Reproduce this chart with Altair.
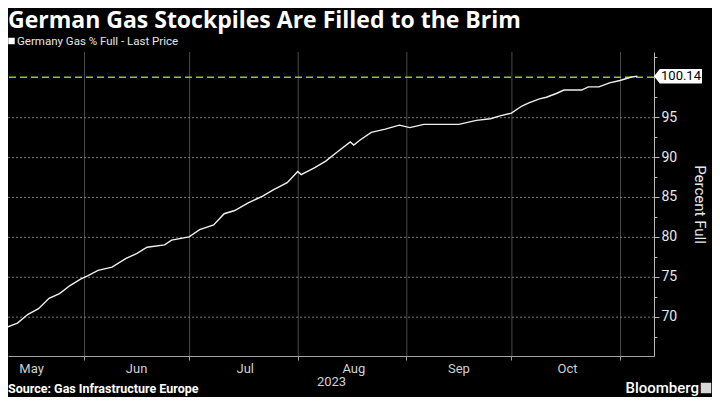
import altair as alt
import pandas as pd

# ---- data ----
dates = [
    "2023-05-08", "2023-05-10", "2023-05-13", "2023-05-16", "2023-05-19", "2023-05-22",
    "2023-05-25", "2023-05-28", "2023-05-31", "2023-06-02", "2023-06-05", "2023-06-09",
    "2023-06-13", "2023-06-16", "2023-06-19", "2023-06-24", "2023-06-26", "2023-07-01",
    "2023-07-04", "2023-07-08", "2023-07-11", "2023-07-14", "2023-07-18", "2023-07-22",
    "2023-07-25", "2023-07-29", "2023-08-01", "2023-08-02", "2023-08-06", "2023-08-09",
    "2023-08-12", "2023-08-16", "2023-08-17", "2023-08-19", "2023-08-22", "2023-08-26",
    "2023-08-30", "2023-09-02", "2023-09-06", "2023-09-16", "2023-09-21", "2023-09-25",
    "2023-09-28", "2023-10-01", "2023-10-04", "2023-10-06", "2023-10-09", "2023-10-11",
    "2023-10-14", "2023-10-16", "2023-10-21", "2023-10-23", "2023-10-26", "2023-10-29",
    "2023-11-01", "2023-11-04", "2023-11-06",
]
values = [
    68.1, 68.7, 69.2, 70.3, 71.0, 72.3,
    72.9, 73.9, 74.7, 75.1, 75.8, 76.2,
    77.3, 77.9, 78.7, 79.0, 79.6, 80.0,
    80.9, 81.5, 82.9, 83.3, 84.3, 85.1,
    85.9, 86.8, 88.2, 87.8, 88.7, 89.5,
    90.55, 91.9, 91.5, 92.2, 93.1, 93.5,
    94.0, 93.7, 94.1, 94.1, 94.6, 94.8,
    95.2, 95.5, 96.4, 96.8, 97.3, 97.5,
    98.0, 98.4, 98.4, 98.8, 98.8, 99.3,
    99.6, 100.0, 100.14,
]
last_value = [100.14]
target_value = [100]
y_tick_values = [67.5, 70, 72.5, 75, 77.5, 80, 82.5, 85, 87.5, 90, 92.5, 95, 97.5, 100, 102.5]
y_grid_values = [70, 75, 80, 85, 90, 95]
month_start_dates = ["2023-06-01", "2023-07-01", "2023-08-01", "2023-09-01", "2023-10-01", "2023-11-01"]

title_text = "German Gas Stockpiles Are Filled to the Brim"
legend_text = "Germany Gas % Full - Last Price"
source_text = "Source: Gas Infrastructure Europe"
brand_text = "Bloomberg"
x_title = "2023"
y_title = "Percent Full"

df = pd.DataFrame({"date": dates, "pct": values})
df_last = pd.DataFrame({"pct": last_value})
df_target = pd.DataFrame({"pct": target_value})
df_vgrid = pd.DataFrame({"date": month_start_dates})
df_hgrid = pd.DataFrame({"pct": y_grid_values})

W, H = 646, 304

x_scale = alt.Scale(
    type="utc",
    domain=[
        alt.DateTime(year=2023, month=5, date=10, hours=7, utc=True),
        alt.DateTime(year=2023, month=11, date=10, hours=17, utc=True),
    ],
    nice=False,
)
y_scale = alt.Scale(domain=[65.07, 103.17], nice=False, zero=False)

major_test = "datum.value % 5 === 0 && datum.value < 100"

x_axis = alt.Axis(
    values=[alt.DateTime(year=2023, month=m, date=1, utc=True) for m in [6, 7, 8, 9, 10, 11]],
    labelExpr="utcFormat(datum.value - 86400000, '%b')",
    labelOffset=-53,
    labelFlush=False,
    labelFont="Roboto",
    labelFontSize=13,
    labelColor="#d0d0d0",
    labelPadding=2,
    tickSize=4,
    tickColor="#a0a0a0",
    domainColor="#a0a0a0",
    grid=False,
    title=x_title,
    titleFont="Roboto",
    titleFontSize=13,
    titleFontWeight="normal",
    titleColor="#d0d0d0",
    titlePadding=0,
)

y_axis = alt.Axis(
    orient="right",
    values=y_tick_values,
    labelExpr="(" + major_test + ") ? datum.value : ''",
    labelFont="Roboto",
    labelFontSize=14,
    labelColor="#e8e8e8",
    labelPadding=2,
    tickSize={"condition": {"test": "datum.value % 5 === 0", "value": 5}, "value": 3},
    tickColor="#bbbbbb",
    domainColor="#bbbbbb",
    grid=False,
    title=y_title,
    titleFont="Roboto",
    titleFontSize=15,
    titleFontWeight="normal",
    titleColor="#e8e8e8",
    titlePadding=15,
)

vgrid = alt.Chart(df_vgrid).mark_rule(
    color="#4a4a4a", strokeWidth=1, opacity=1, xOffset=0.5
).encode(
    x=alt.X("date:T", scale=x_scale, axis=x_axis),
)
hgrid = alt.Chart(df_hgrid).mark_rule(
    color="#7a7a7a", strokeWidth=1, strokeDash=[2, 2], opacity=1, yOffset=0.5
).encode(
    y=alt.Y("pct:Q", scale=y_scale, axis=y_axis),
)

line = alt.Chart(df).mark_line(color="#f0f0f0", strokeWidth=1.4, clip=True).encode(
    x=alt.X("date:T", scale=x_scale, axis=x_axis),
    y=alt.Y("pct:Q", scale=y_scale, axis=y_axis),
)

target = alt.Chart(df_target).mark_rule(color="#8CC63F", strokeWidth=1.6, strokeDash=[7, 4]).encode(
    y=alt.Y("pct:Q", scale=y_scale, axis=y_axis),
)

tag_path = "M -1 0 L -0.76 -0.3 L 1 -0.3 L 1 0.3 L -0.76 0.3 Z"
tag = alt.Chart(df_last).mark_point(
    shape=tag_path, size=2304, filled=True, color="white", opacity=1
).encode(
    x=alt.value(W + 24),
    y=alt.Y("pct:Q", scale=y_scale, axis=y_axis),
)
tag_text = alt.Chart(df_last).mark_text(
    color="black", font="Roboto", fontSize=13, align="center", baseline="middle"
).encode(
    x=alt.value(W + 27),
    y=alt.Y("pct:Q", scale=y_scale, axis=y_axis),
    text=alt.Text("pct:Q", format=".2f"),
)

title = alt.Chart(pd.DataFrame({"t": [title_text]})).mark_text(
    color="white", font="Open Sans", fontSize=23, fontWeight="bold", align="left", baseline="alphabetic"
).encode(x=alt.value(0), y=alt.value(-24), text="t:N")

legend_sq = alt.Chart(pd.DataFrame({"t": [legend_text]})).mark_point(
    shape="square", size=42, filled=True, color="white", opacity=1
).encode(x=alt.value(3.5), y=alt.value(-11))

legend = alt.Chart(pd.DataFrame({"t": [legend_text]})).mark_text(
    color="#e6e6e6", font="Roboto", fontSize=11.5, align="left", baseline="alphabetic"
).encode(x=alt.value(9), y=alt.value(-7), text="t:N")

source = alt.Chart(pd.DataFrame({"t": [source_text]})).mark_text(
    color="white", font="Roboto", fontSize=12.5, fontWeight="bold", align="left", baseline="alphabetic"
).encode(x=alt.value(0), y=alt.value(H + 37), text="t:N")

brand = alt.Chart(pd.DataFrame({"t": [brand_text]})).mark_text(
    color="white", font="Roboto", fontSize=15, fontWeight=500, align="right", baseline="alphabetic"
).encode(x=alt.value(W + 45), y=alt.value(H + 37), text="t:N")

icon = alt.Chart(pd.DataFrame({"t": [brand_text]})).mark_point(
    shape="square", size=110, filled=True, color="#d8d8d8", opacity=1
).encode(x=alt.value(W + 52), y=alt.value(H + 32))

chart = alt.layer(
    vgrid, hgrid, target, line, tag, tag_text, title, legend_sq, legend, source, brand, icon
).properties(
    width=W,
    height=H,
    background="black",
    autosize=alt.AutoSizeParams(type="none"),
    padding={"left": 0, "top": 44, "right": 58, "bottom": 41},
).configure_view(stroke=None)

chart.save("out.html", embed_options={"renderer": "svg", "actions": False})
